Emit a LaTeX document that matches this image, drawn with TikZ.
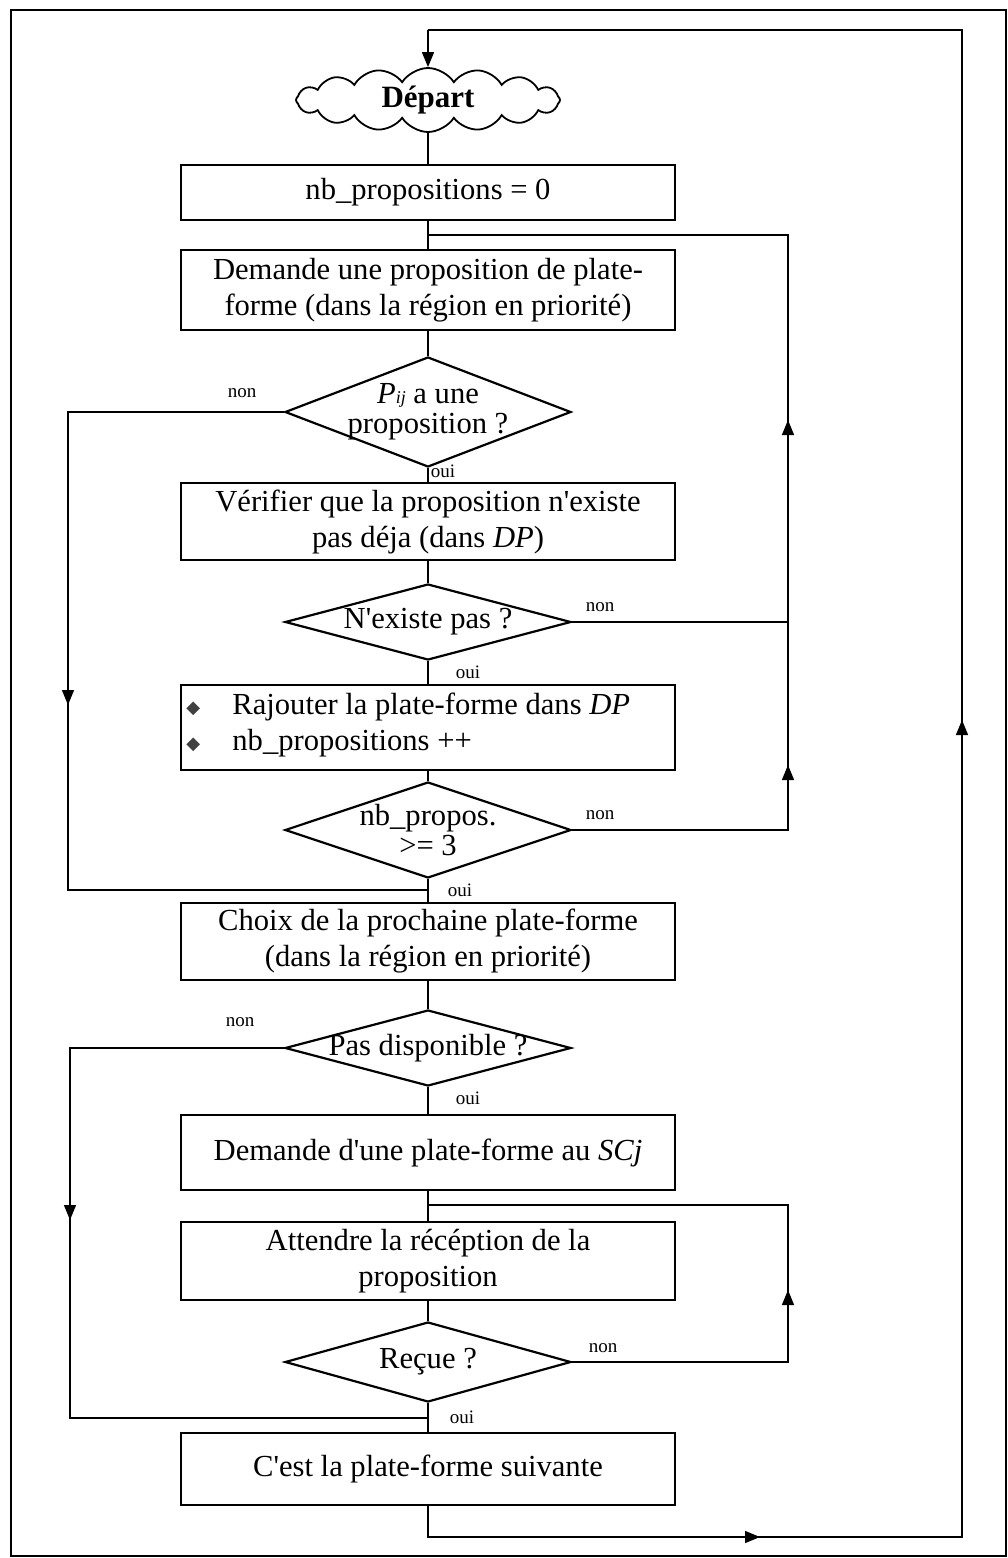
\documentclass[tikz,border=0pt]{standalone}
\usepackage{fontspec}
\setmainfont{Liberation Serif}[Ligatures=TeXOff]
\newfontfamily\symfont{DejaVu Sans}
\usetikzlibrary{shapes.geometric,shapes.symbols,arrows.meta}

\tikzset{
  stepbox/.style={draw, line width=0.9pt, minimum width=247pt, inner sep=2pt,
    align=center, font=\fontsize{15.3}{18}\selectfont},
  bullettext/.style={anchor=west, inner sep=0pt, font=\fontsize{15.3}{18}\selectfont},
  testdia/.style={draw, diamond, line width=1.1pt, minimum width=143pt,
    inner sep=0pt, text=black},
  diatext/.style={align=center, font=\fontsize{15.3}{15}\selectfont, inner sep=0pt},
  flow/.style={line width=0.7pt},
  tip/.style={line width=0.7pt, -{Triangle[length=7.5pt, width=6pt]}},
  lbl/.style={font=\fontsize{9.5}{10}\selectfont, inner sep=0pt},
}
\newcommand{\bul}{{\symfont\fontsize{9}{9}\selectfont\textcolor{black!75}{◆}}}

\begin{document}
\begin{tikzpicture}[x=0.5pt, y=-0.5pt]
  \useasboundingbox (0,0) rectangle (1007,1558);
  % outer frame
  \draw[line width=0.9pt] (11,10) rectangle (1006,1556);

  % start cloud
  \node[draw, cloud, cloud puffs=16, cloud puff arc=115, aspect=4.2,
        minimum width=132pt, minimum height=32pt, line width=0.9pt,
        inner sep=0pt, font=\bfseries\fontsize{15.5}{15}\selectfont]
        (start) at (428,100) {Départ};

  % process boxes
  \node[stepbox, minimum height=27.5pt] (b1) at (428,192.5) {nb\_propositions = 0};
  \node[stepbox, minimum height=40pt] (b2) at (428,290)
     {Demande une proposition de plate-\\forme (dans la région en priorité)};
  \node[stepbox, minimum height=38.5pt] (b3) at (428,521.5)
     {Vérifier que la proposition n'existe\\pas déja (dans \textit{DP})};
  \node[stepbox, minimum height=42.5pt] (b4) at (428,727.5) {};
  \node[bullettext] (b4x) at (186,709) {\bul};
  \node[bullettext] (b4y) at (186,745) {\bul};
  \node[bullettext] (b4l1) at (232,707) {Rajouter la plate-forme dans \textit{DP}};
  \node[bullettext] (b4l2) at (232,743) {nb\_propositions ++};
  \node[stepbox, minimum height=38.5pt] (b5) at (428,941.5)
     {Choix de la prochaine plate-forme\\(dans la région en priorité)};
  \node[stepbox, minimum height=37.5pt] (b6) at (428,1152.5)
     {Demande d'une plate-forme au \textit{SCj}};
  \node[stepbox, minimum height=39pt] (b7) at (428,1261)
     {Attendre la récéption de la\\proposition};
  \node[stepbox, minimum height=36pt] (b8) at (428,1469)
     {C'est la plate-forme suivante};

  % decisions
  \node[testdia, minimum height=55pt] (d1) at (428,412) {};
  \node[diatext] at (d1) {\textit{P}{\fontsize{9}{9}\selectfont\textit{ij}} a une\\proposition ?};
  \node[testdia, minimum height=38pt] (d2) at (428,622) {};
  \node[diatext] at (d2) {N'existe pas ?};
  \node[testdia, minimum height=48pt] (d3) at (428,830) {};
  \node[diatext] at (d3) {nb\_propos.\\>= 3};
  \node[testdia, minimum height=38pt] (d4) at (428,1048) {};
  \node[diatext] at (d4) {Pas disponible ?};
  \node[testdia, minimum height=40pt] (d5) at (428,1362) {};
  \node[diatext] at (d5) {Reçue ?};

  % main vertical flow
  \draw[flow] (start) -- (b1);
  \draw[flow] (b1) -- (b2);
  \draw[flow] (b2) -- (d1);
  \draw[flow] (d1) -- (b3);
  \draw[flow] (b3) -- (d2);
  \draw[flow] (d2) -- (b4);
  \draw[flow] (b4) -- (d3);
  \draw[flow] (d3) -- (b5);
  \draw[flow] (b5) -- (d4);
  \draw[flow] (d4) -- (b6);
  \draw[flow] (b6) -- (b7);
  \draw[flow] (b7) -- (d5);
  \draw[flow] (d5) -- (b8);

  % branch labels
  \node[lbl] at (242,393) {non};
  \node[lbl] at (443,471) {oui};
  \node[lbl] at (600,607) {non};
  \node[lbl] at (468,672) {oui};
  \node[lbl] at (600,815) {non};
  \node[lbl] at (460,890) {oui};
  \node[lbl] at (240,1022) {non};
  \node[lbl] at (468,1098) {oui};
  \node[lbl] at (603,1348) {non};
  \node[lbl] at (462,1417) {oui};

  % loop points
  \coordinate (j1) at (428,235);
  \coordinate (r1t) at (788,235);
  \coordinate (r1m) at (788,622);
  \coordinate (r1b) at (788,830);
  \coordinate (r1a) at (788,420);
  \coordinate (r1c) at (788,765);
  \coordinate (l1t) at (68,412);
  \coordinate (l1b) at (68,890);
  \coordinate (l1a) at (68,705);
  \coordinate (j2) at (428,890);
  \coordinate (j3) at (428,1205);
  \coordinate (r2t) at (788,1205);
  \coordinate (r2b) at (788,1362);
  \coordinate (r2a) at (788,1290);
  \coordinate (l2t) at (70,1048);
  \coordinate (l2b) at (70,1418);
  \coordinate (l2a) at (70,1220);
  \coordinate (j4) at (428,1418);
  \coordinate (bl) at (428,1537);
  \coordinate (br) at (962,1537);
  \coordinate (ba) at (760,1537);
  \coordinate (tr) at (962,30);
  \coordinate (ta) at (962,720);
  \coordinate (tl) at (428,30);

  % retry loop of the first block
  \draw[flow] (d3.east) -- (r1b) -- (r1t) -- (j1);
  \draw[flow] (d2.east) -- (r1m);
  \draw[tip] (r1m) -- (r1a);
  \draw[tip] (r1b) -- (r1c);
  \draw[flow] (d1.west) -- (l1t) -- (l1b) -- (j2);
  \draw[tip] (l1t) -- (l1a);

  % waiting loop of the second block
  \draw[flow] (d5.east) -- (r2b) -- (r2t) -- (j3);
  \draw[tip] (r2b) -- (r2a);
  \draw[flow] (d4.west) -- (l2t) -- (l2b) -- (j4);
  \draw[tip] (l2t) -- (l2a);

  % back to the start
  \draw[flow] (b8.south) -- (bl) -- (br) -- (tr) -- (tl);
  \draw[tip] (bl) -- (ba);
  \draw[tip] (br) -- (ta);
  \draw[tip] (tl) -- (start.north);
\end{tikzpicture}
\end{document}
